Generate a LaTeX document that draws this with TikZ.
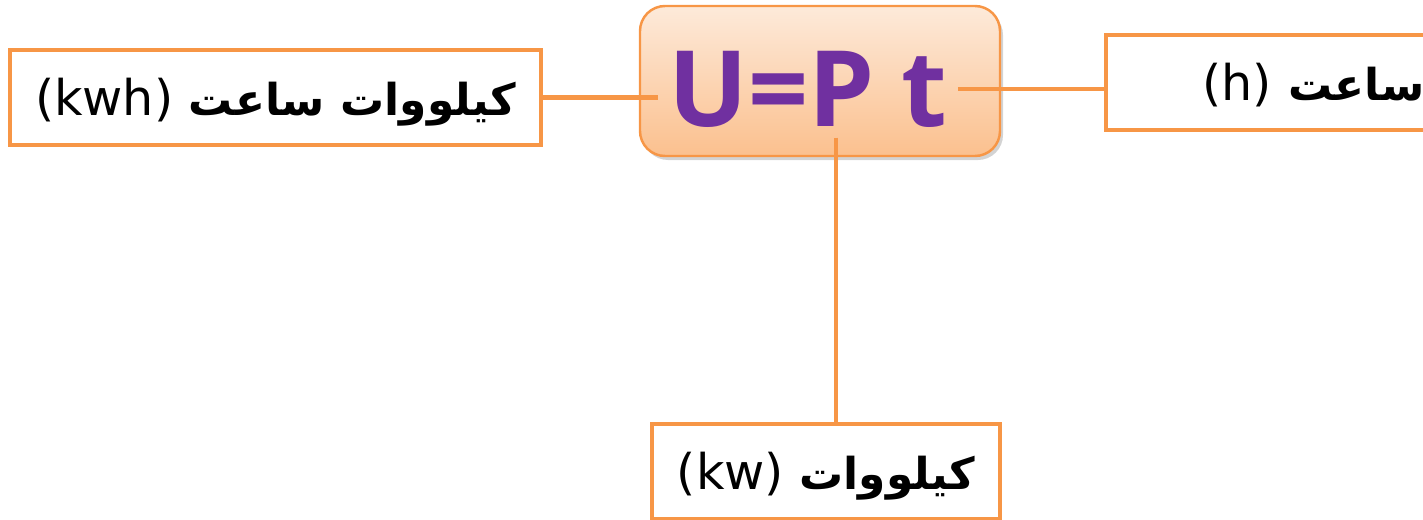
\documentclass[tikz,border=0pt]{standalone}
\usepackage{fontspec}
\setmainfont{DejaVu Sans}
\newfontfamily\formulafont{Open Sans}
\newfontfamily\arabicfont[Script=Arabic]{DejaVu Sans}
\TeXXeTstate=1
\usetikzlibrary{positioning,shadows}
\definecolor{peel}{RGB}{247,150,70}
\definecolor{plum}{RGB}{112,48,160}
\definecolor{peachtop}{RGB}{253,234,218}
\definecolor{peachbot}{RGB}{251,192,142}
\newcommand{\ar}[1]{{\arabicfont\bfseries\fontsize{25}{30}\selectfont\beginR #1\endR}}
\tikzset{
  link/.style={draw=peel,line width=2.8pt},
  label box/.style={draw=peel,line width=2.4pt,fill=white,minimum height=19mm,
    text height=8.5mm,text depth=1.5mm,font=\fontsize{28}{34}\selectfont},
  formula box/.style={draw=peel,line width=1.4pt,rounded corners=5mm,
    top color=peachtop,bottom color=peachbot,minimum width=72mm,minimum height=30mm,
    drop shadow={opacity=0.35,shadow xshift=0.6mm,shadow yshift=-0.8mm}},
  formula/.style={text=plum,font=\formulafont\fontsize{60}{64}\selectfont\bfseries,inner sep=2mm},
}
\begin{document}
\begin{tikzpicture}
  \useasboundingbox (0,0) rectangle (28.46,10.38);
  \clip (0,0) rectangle (28.46,10.38);
  % the formula in the middle
  \node[formula box] (box) at (16.4,8.76) {};
  \node[formula] (eq) at (16.16,8.6) {U=P t};
  % the three units
  \node[label box,minimum width=106.2mm] (kwh) at (5.51,8.43)
    {(kwh) \ar{کیلووات ساعت}};
  \node[label box,anchor=west,text width=60mm,align=left,inner xsep=19.2mm] (hour) at (22.08,8.73)
    {(h) \ar{ساعت}};
  \node[label box,minimum width=69.6mm] (kw) at (16.52,0.95)
    {(kw) \ar{کیلووات}};
  \coordinate (tap) at ([xshift=2mm]kw.north);
  \draw[link] (kwh.east) -- (kwh.east -| eq.west);
  \draw[link] (eq.east) -- (eq.east -| hour.west);
  \draw[link] (tap |- eq.south) -- (tap);
\end{tikzpicture}
\end{document}
